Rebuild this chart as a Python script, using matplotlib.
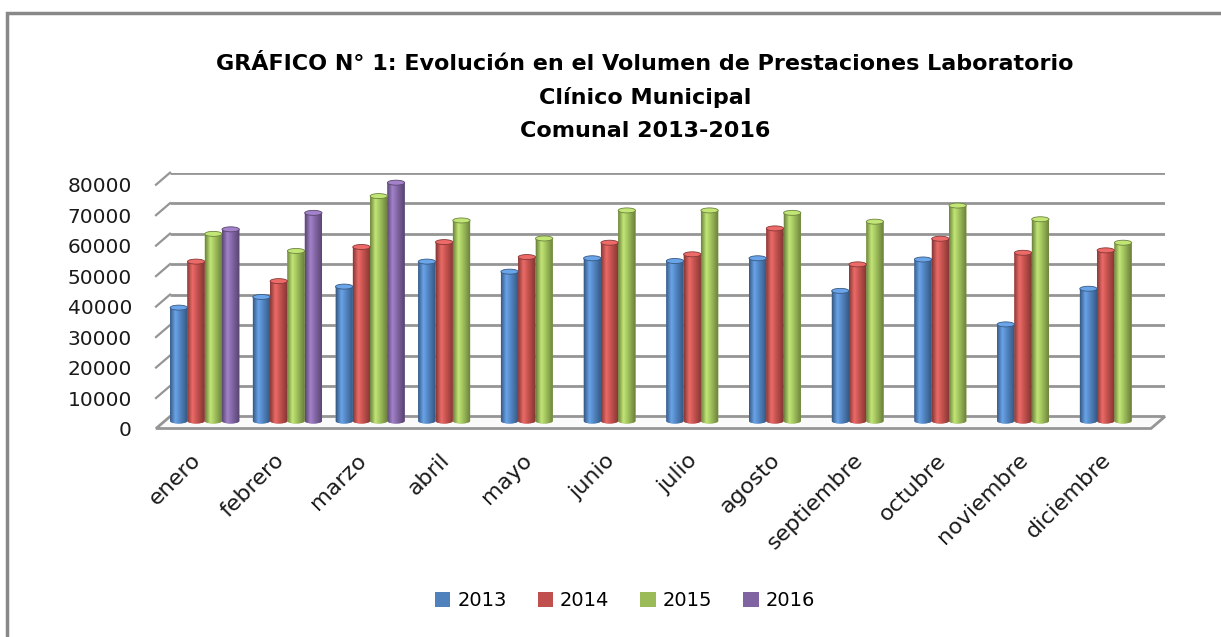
import numpy as np
import matplotlib
matplotlib.use("Agg")
import matplotlib.pyplot as plt
from matplotlib import transforms
from matplotlib.patches import Polygon, Ellipse, Patch, Rectangle
from matplotlib.colors import LinearSegmentedColormap, to_rgb

# datos
meses = ["enero", "febrero", "marzo", "abril", "mayo", "junio", "julio",
         "agosto", "septiembre", "octubre", "noviembre", "diciembre"]
anios = ["2013", "2014", "2015", "2016"]
v2013 = [37200, 40700, 44100, 52300, 49000, 53400, 52500, 53400, 42700, 53000, 31700, 43400]
v2014 = [52300, 45900, 57100, 58700, 53800, 58500, 54700, 63200, 51400, 59800, 55200, 56000]
v2015 = [61400, 55800, 73800, 65800, 59900, 69100, 69100, 68300, 65400, 70700, 66200, 58500]
v2016 = [62900, 68300, 78200]
series = [v2013, v2014, v2015, v2016]
colores = ["#4F81BD", "#C0504D", "#9BBB59", "#8064A2"]
yticks = list(range(0, 80001, 10000))

titulo = ["GRÁFICO N° 1: Evolución en el Volumen de Prestaciones Laboratorio",
          "Clínico Municipal",
          "Comunal 2013-2016"]

W, H = 1221, 637
fig = plt.figure(figsize=(W / 100, H / 100), dpi=100)

# pared del fondo en pixeles
left, right, y0, y80 = 170, 1165, 416.5, 172.7
ax = fig.add_axes([left / W, 1 - y0 / H, (right - left) / W, (y0 - y80) / H])
x_first, paso = 210, 82.7
xmin, xmax = -(x_first - left) / paso, (right - x_first) / paso
px = 1 / paso
py = 80000 / (y0 - y80)
dx_prof, dy_prof = 14, 12  # profundidad del "3D" en pixeles

gris = "#959595"
# lineas de division (fondo + pared lateral)
for v in yticks[1:]:
    ax.plot([xmin, xmax], [v, v], color=gris, lw=2, zorder=1, solid_capstyle="butt")
    ax.plot([xmin, xmin - dx_prof * px], [v, v - dy_prof * py], color=gris, lw=1.6,
            zorder=1, clip_on=False)
# piso
piso = Polygon([(xmin, 0), (xmax, 0), (xmax - dx_prof * px, -dy_prof * py),
                (xmin - dx_prof * px, -dy_prof * py)], closed=True,
               facecolor="#fafafa", edgecolor=gris, lw=2, zorder=1.5, clip_on=False)
ax.add_patch(piso)

# barras (cilindros) desplazadas hacia adelante
off = transforms.ScaledTranslation(-5.3 / 100, -4.5 / 100, fig.dpi_scale_trans)
tr = ax.transData + off
ancho = 17.3 / paso
eh = 5 * py
grad = np.linspace(0, 1, 64).reshape(1, -1)
for k, (vals, c) in enumerate(zip(series, colores)):
    rgb = np.array(to_rgb(c))
    oscuro = rgb * 0.7
    claro = np.clip(rgb * 1.15 + 0.06, 0, 1)
    cmap = LinearSegmentedColormap.from_list("c%d" % k, [(0, oscuro), (0.3, claro),
                                                          (0.6, rgb), (1, oscuro * 0.95)])
    for i, v in enumerate(vals):
        xc = i + (k - 1.5) * ancho
        th = np.linspace(np.pi, 2 * np.pi, 25)
        pts = [(xc + ancho / 2 * np.cos(t), eh / 2 * np.sin(t)) for t in th]
        pts += [(xc + ancho / 2, v), (xc - ancho / 2, v)]
        cuerpo = Polygon(pts, closed=True, facecolor=c, edgecolor="none",
                         transform=tr, zorder=3, clip_on=False)
        ax.add_patch(cuerpo)
        im = ax.imshow(grad, extent=[xc - ancho / 2, xc + ancho / 2, -eh, v],
                       cmap=cmap, aspect="auto", transform=tr, zorder=3.1,
                       interpolation="bilinear")
        im.set_clip_path(cuerpo)
        im.set_clip_box(fig.bbox)
        tapa = Ellipse((xc, v), ancho, eh, transform=tr, facecolor=claro,
                       edgecolor=oscuro, lw=0.6, zorder=3.2, clip_on=False)
        ax.add_patch(tapa)

ax.set_xlim(xmin, xmax)
ax.set_ylim(0, 80000)
for s in ax.spines.values():
    s.set_visible(False)
ax.patch.set_visible(False)

ax.set_yticks(yticks)
ax.set_yticklabels([str(t) for t in yticks], fontsize=14.5, color="#1a1a1a")
ax.tick_params(axis="y", length=0, pad=27.4)
off_y = transforms.ScaledTranslation(0, -dy_prof / 100, fig.dpi_scale_trans)
for lab in ax.get_yticklabels():
    lab.set_transform(lab.get_transform() + off_y)

ax.set_xticks(range(len(meses)))
ax.set_xticklabels(meses, fontsize=16, rotation=45, ha="right", va="center",
                   rotation_mode="anchor", color="#1a1a1a")
ax.tick_params(axis="x", length=0, pad=0)
off_x = transforms.ScaledTranslation(-12 / 100, -40.5 / 100, fig.dpi_scale_trans)
for lab in ax.get_xticklabels():
    lab.set_transform(lab.get_transform() + off_x)

# titulo
for linea, yb in zip(titulo, [70, 104, 137]):
    fig.text(645 / W, 1 - yb / H, linea, ha="center", va="baseline",
             fontsize=16, fontweight="bold", color="black")

# leyenda
handles = [Patch(facecolor=c, edgecolor="none") for c in colores]
fig.legend(handles, anios, loc="center", bbox_to_anchor=(625 / W, 1 - 601 / H),
           ncol=4, frameon=False, fontsize=14, handlelength=0.8, handleheight=0.8,
           handletextpad=0.35, columnspacing=1.6)

# marco
fig.add_artist(Rectangle((7 / W, -0.05), 1.2, 1 - 13 / H + 0.05, transform=fig.transFigure,
                         fill=False, edgecolor="#888888", lw=2.5))

fig.savefig("out.png", dpi=100)
